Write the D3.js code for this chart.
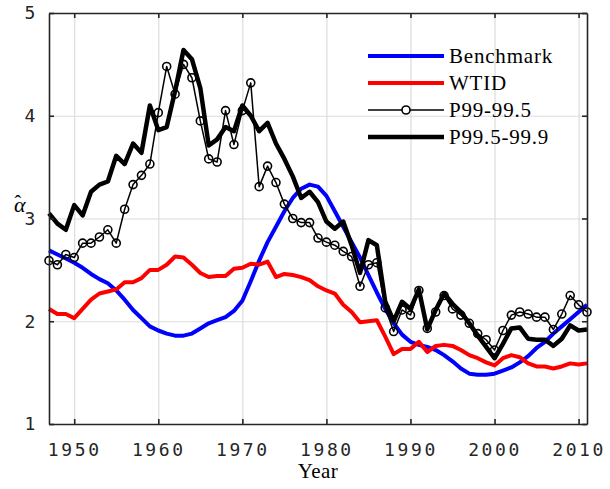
<!DOCTYPE html>
<html>
<head>
<meta charset="utf-8">
<script src="https://d3js.org/d3.v7.min.js"></script>
<style>
    body { margin: 0; background: #fff; }
    .tickText { font-family: "DejaVu Sans Mono", monospace; font-size: 18px; fill: #262626; letter-spacing: 2.6px; }
    .serifText { font-family: "Liberation Serif", "DejaVu Serif", serif; fill: #000; }
</style>
</head>
<body>
<div id="chart"></div>
<script>

// Data
var years = d3.range(1947, 2012);

var benchmark = [2.69, 2.65, 2.61, 2.57, 2.52, 2.46, 2.41, 2.37, 2.30, 2.21,
    2.11, 2.03, 1.95, 1.91, 1.88, 1.86, 1.86, 1.88, 1.93, 1.98,
    2.01, 2.04, 2.10, 2.20, 2.39, 2.59, 2.77, 2.92, 3.07, 3.20,
    3.29, 3.33, 3.31, 3.22, 3.07, 2.92, 2.77, 2.62, 2.45, 2.28,
    2.12, 1.98, 1.87, 1.80, 1.77, 1.75, 1.72, 1.67, 1.61, 1.54,
    1.49, 1.48, 1.48, 1.49, 1.52, 1.55, 1.60, 1.66, 1.74, 1.80,
    1.88, 1.95, 2.02, 2.09, 2.16];

var wtid = [2.12, 2.07, 2.07, 2.03, 2.12, 2.21, 2.27, 2.29, 2.31, 2.38,
    2.38, 2.42, 2.50, 2.50, 2.55, 2.63, 2.62, 2.55, 2.47, 2.43,
    2.44, 2.44, 2.51, 2.52, 2.56, 2.55, 2.58, 2.43, 2.46, 2.45,
    2.43, 2.40, 2.34, 2.30, 2.27, 2.16, 2.09, 1.99, 2.00, 2.01,
    1.85, 1.68, 1.73, 1.73, 1.80, 1.70, 1.76, 1.77, 1.76, 1.72,
    1.67, 1.64, 1.60, 1.57, 1.64, 1.67, 1.65, 1.59, 1.56, 1.56,
    1.54, 1.56, 1.59, 1.58, 1.59];

var p99 = [2.59, 2.55, 2.65, 2.62, 2.76, 2.76, 2.82, 2.89, 2.76, 3.09,
    3.33, 3.42, 3.53, 4.03, 4.48, 4.21, 4.50, 4.37, 3.95, 3.58,
    3.55, 4.05, 3.72, 4.05, 4.32, 3.31, 3.51, 3.35, 3.14, 3.00,
    2.96, 2.96, 2.81, 2.77, 2.74, 2.68, 2.63, 2.34, 2.55, 2.57,
    2.13, 1.90, 2.11, 2.06, 2.30, 1.93, 2.09, 2.25, 2.12, 2.06,
    1.98, 1.88, 1.82, 1.72, 1.91, 2.06, 2.09, 2.07, 2.04, 2.04,
    1.92, 2.07, 2.25, 2.16, 2.09];

var p995 = [3.05, 2.95, 2.89, 3.13, 3.03, 3.26, 3.33, 3.36, 3.61, 3.53,
    3.73, 3.64, 4.10, 3.86, 3.89, 4.24, 4.64, 4.55, 4.27, 3.71,
    3.77, 3.89, 3.85, 4.10, 4.00, 3.85, 3.93, 3.73, 3.58, 3.41,
    3.20, 3.26, 3.16, 2.97, 2.90, 2.97, 2.74, 2.47, 2.79, 2.74,
    2.19, 2.00, 2.19, 2.12, 2.31, 1.92, 2.11, 2.27, 2.17, 2.09,
    1.98, 1.86, 1.75, 1.64, 1.78, 1.93, 1.94, 1.83, 1.82, 1.82,
    1.76, 1.83, 1.96, 1.91, 1.92];

var xTicks = [1950, 1960, 1970, 1980, 1990, 2000, 2010];
var yTicks = [1, 2, 3, 4, 5];
var legendNames = ["Benchmark", "WTID", "P99-99.5", "P99.5-99.9"];

// Chart Size
var svgWidth = 610;
var svgHeight = 489;

var margin = {
    top: 13,
    right: 23,
    bottom: 65,
    left: 49
};

var width = svgWidth - margin.left - margin.right;
var height = svgHeight - margin.top - margin.bottom;
var axisColor = "#262626";

// SVG Wrapper
var svg = d3.select("#chart")
    .append("svg")
    .attr("width", svgWidth)
    .attr("height", svgHeight);

var chartGroup = svg.append("g")
    .attr("transform", `translate(${margin.left}, ${margin.top})`);

// Scales
var xScale = d3.scaleLinear()
    .domain([1947, 2011])
    .range([0, width]);

var yScale = d3.scaleLinear()
    .domain([1, 5])
    .range([height, 0]);

// Grid
chartGroup.append("g")
    .call(d3.axisBottom(xScale).tickValues(xTicks).tickSize(height).tickFormat(""))
    .call(g => g.select(".domain").remove())
    .selectAll("line")
    .attr("stroke", "#dcdcdc")
    .attr("stroke-width", 1.2);

chartGroup.append("g")
    .call(d3.axisLeft(yScale).tickValues(yTicks).tickSize(-width).tickFormat(""))
    .call(g => g.select(".domain").remove())
    .selectAll("line")
    .attr("stroke", "#dcdcdc")
    .attr("stroke-width", 1.2);

// Series
var series = [
    { name: "Benchmark", values: benchmark, color: "#0000ff", width: 4 },
    { name: "WTID", values: wtid, color: "#ff0000", width: 4 },
    { name: "P99-99.5", values: p99, color: "#000", width: 1.5, marker: true },
    { name: "P99.5-99.9", values: p995, color: "#000", width: 4.5 }
];

var line = d3.line()
    .x((d, i) => xScale(years[i]))
    .y(d => yScale(d));

series.forEach(s => {
    chartGroup.append("path")
        .datum(s.values)
        .attr("d", line)
        .attr("fill", "none")
        .attr("stroke", s.color)
        .attr("stroke-width", s.width)
        .attr("stroke-linejoin", "round");

    if (s.marker) {
        chartGroup.selectAll(null)
            .data(s.values)
            .enter()
            .append("circle")
            .attr("cx", (d, i) => xScale(years[i]))
            .attr("cy", d => yScale(d))
            .attr("r", 4)
            .attr("fill", "none")
            .attr("stroke", "#000")
            .attr("stroke-width", 1.6);
    }
});

// Axes (ticks inside, box all round)
var axisGroup = chartGroup.append("g");

axisGroup.append("g")
    .attr("transform", `translate(0, ${height})`)
    .call(d3.axisBottom(xScale).tickValues(xTicks).tickFormat(d3.format("d"))
        .tickSizeInner(-5).tickSizeOuter(0).tickPadding(19));

axisGroup.append("g")
    .call(d3.axisLeft(yScale).tickValues(yTicks).tickFormat(d3.format("d"))
        .tickSizeInner(-5).tickSizeOuter(0).tickPadding(11));

axisGroup.append("g")
    .call(d3.axisTop(xScale).tickValues(xTicks).tickFormat("")
        .tickSizeInner(-5).tickSizeOuter(0));

axisGroup.append("g")
    .attr("transform", `translate(${width}, 0)`)
    .call(d3.axisRight(yScale).tickValues(yTicks).tickFormat("")
        .tickSizeInner(-5).tickSizeOuter(0));

axisGroup.selectAll(".domain, .tick line")
    .attr("stroke", axisColor)
    .attr("stroke-width", 1.6);

axisGroup.selectAll(".tick text")
    .attr("class", "tickText")
    .attr("font-family", null)
    .attr("font-size", null)
    .attr("fill", null);

// Axis labels
chartGroup.append("text")
    .attr("class", "serifText")
    .attr("x", width / 2)
    .attr("y", height + 54)
    .attr("text-anchor", "middle")
    .attr("font-size", 21)
    .attr("letter-spacing", 0.5)
    .text("Year");

// alpha with a hat, kept as one text
var alphaLabel = svg.append("text")
    .attr("class", "serifText")
    .attr("x", 14)
    .attr("y", 212)
    .attr("font-size", 22)
    .attr("fill", axisColor);

alphaLabel.append("tspan")
    .attr("font-style", "italic")
    .text("\u03b1");

alphaLabel.append("tspan")
    .attr("dx", -11)
    .attr("dy", -2)
    .attr("font-size", 20)
    .text("\u02c6");

// Legend
var legend = svg.append("g")
    .attr("transform", "translate(368, 56)");

var legendRow = legend.selectAll("g")
    .data(series)
    .enter()
    .append("g")
    .attr("transform", (d, i) => `translate(0, ${i * 27})`);

legendRow.append("line")
    .attr("x1", 0)
    .attr("x2", 76)
    .attr("stroke", d => d.color)
    .attr("stroke-width", d => d.width);

legendRow.filter(d => d.marker)
    .append("circle")
    .attr("cx", 38)
    .attr("r", 4)
    .attr("fill", "#fff")
    .attr("stroke", "#000")
    .attr("stroke-width", 1.6);

legendRow.append("text")
    .attr("class", "serifText")
    .attr("x", 81)
    .attr("y", 7)
    .attr("font-size", 21)
    .attr("letter-spacing", 0.8)
    .text((d, i) => legendNames[i]);

</script>
</body>
</html>
